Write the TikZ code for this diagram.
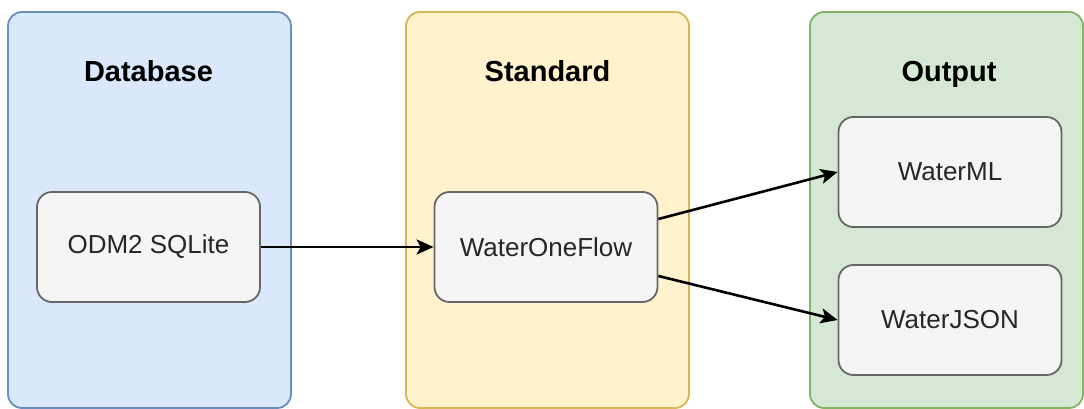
\documentclass[tikz,border=0pt]{standalone}
\usepackage{fontspec}
\setmainfont{Liberation Sans}
\usetikzlibrary{arrows.meta}
\definecolor{dbfill}{HTML}{DAE8FC}\definecolor{dbline}{HTML}{6C8EBF}
\definecolor{stfill}{HTML}{FFF2CC}\definecolor{stline}{HTML}{D6B656}
\definecolor{oufill}{HTML}{D5E8D4}\definecolor{ouline}{HTML}{82B366}
\definecolor{bxfill}{HTML}{F5F5F5}\definecolor{bxline}{HTML}{666666}
\tikzset{
  panel/.style={rounded corners=14pt, line width=1.8pt},
  title/.style={font=\bfseries\fontsize{29}{34}\selectfont, text=black, anchor=base},
  item/.style={draw=bxline, fill=bxfill, line width=1.8pt, rounded corners=15pt,
    minimum width=223pt, minimum height=110pt, font=\fontsize{26}{30}\selectfont, text=black!85, inner sep=0pt},
  link/.style={-{Stealth[length=17pt,width=15pt,inset=4pt]}, line width=2.6pt, black}
}
\begin{document}
\begin{tikzpicture}[x=1pt,y=-1pt]
\useasboundingbox (0,0) rectangle (1084,409);
\draw[panel, draw=dbline, fill=dbfill] (8,12) rectangle (291,408);
\draw[panel, draw=stline, fill=stfill] (406,12) rectangle (689,408);
\draw[panel, draw=ouline, fill=oufill] (810,12) rectangle (1083,408);
\node[title] (t1) at (148.5,82) {Database};
\node[title] (t2) at (547.5,82) {Standard};
\node[title] (t3) at (949,82) {Output};
\node[item] (odm) at (148.5,247) {ODM2 SQLite};
\node[item] (wof) at (546,247) {WaterOneFlow};
\node[item] (wml) at (950,172) {WaterML};
\node[item] (wjs) at (950,320) {WaterJSON};
\draw[link] (odm.east) -- (wof.west);
\draw[link] ([yshift=28pt]wof.east) -- (wml.west);
\draw[link] ([yshift=-29pt]wof.east) -- (wjs.west);
\end{tikzpicture}
\end{document}
